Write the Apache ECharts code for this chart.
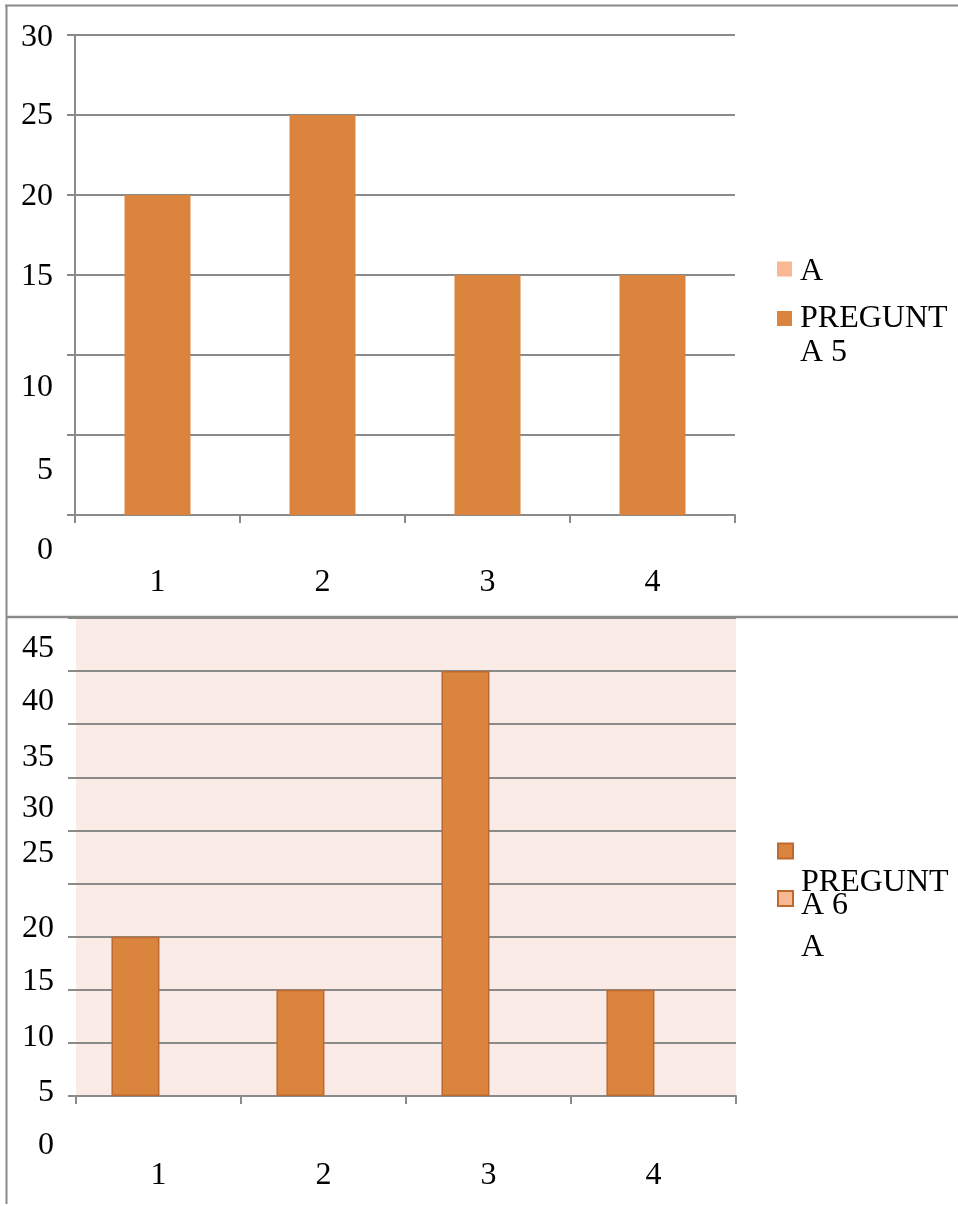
<!DOCTYPE html>
<html>
<head>
<meta charset="utf-8">
<script src="https://cdn.jsdelivr.net/npm/echarts@6/dist/echarts.min.js"></script>
<style>
  html, body { margin: 0; padding: 0; background: #ffffff; }
  #chart { width: 958px; height: 1206px; }
</style>
</head>
<body>
<div id="chart"></div>
<script>
// ---- data ----
const categories = ['1', '2', '3', '4'];

const q5Name = 'PREGUNTA 5';
const q5Values = [20, 25, 15, 15];
const q5Ticks = [0, 5, 10, 15, 20, 25, 30];

const q6Name = 'PREGUNTA 6';
const q6Values = [15, 10, 40, 10];
const q6Ticks = [0, 5, 10, 15, 20, 25, 30, 35, 40, 45];

const blankName = 'A';
const blankValues = [null, null, null, null];

// ---- look ----
const FONT = '"Liberation Serif", "Times New Roman", serif';
const FS = 32;
const BAR = '#DB843D';
const BAR_LIGHT = '#F9B894';
const BAR_EDGE = '#BC6A2F';
const RULE = '#8a8a8a';
const LEGEND_WRAP = 7; // characters per legend line

// vertical nudge (px) of each y tick label relative to its gridline
const q5LabelShift = { 0: 36, 5: 36, 10: 33, 15: 2, 20: 2, 25: 1, 30: 3 };
const q6LabelShift = { 0: 50, 5: 50, 10: 48, 15: 45, 20: 45, 25: 23, 30: 31, 35: 33, 40: 30, 45: 31 };

function shiftedLabels(ticks, shifts) {
  const rich = {};
  ticks.forEach(function (t) {
    const d = shifts[t] || 0;
    rich['s' + t] = {
      fontFamily: FONT,
      fontSize: FS,
      color: '#000',
      padding: d >= 0 ? [2 * d, 0, 0, 0] : [0, 0, -2 * d, 0]
    };
  });
  return {
    formatter: function (v) { return '{s' + v + '|' + v + '}'; },
    rich: rich
  };
}

function valueAxis(gridIndex, ticks, shifts, showLine) {
  const lab = shiftedLabels(ticks, shifts);
  return {
    type: 'value',
    gridIndex: gridIndex,
    min: ticks[0],
    max: ticks[ticks.length - 1],
    interval: ticks[1] - ticks[0],
    axisLine: { show: showLine, lineStyle: { color: RULE, width: 2 } },
    axisTick: { show: true, length: 8, lineStyle: { color: RULE, width: 2 } },
    splitLine: { show: true, lineStyle: { color: RULE, width: 2 } },
    axisLabel: {
      show: true,
      margin: 22,
      hideOverlap: false,
      showMinLabel: true,
      showMaxLabel: true,
      fontFamily: FONT,
      fontSize: FS,
      color: '#000',
      formatter: lab.formatter,
      rich: lab.rich
    }
  };
}

function categoryAxis(gridIndex, margin) {
  return {
    type: 'category',
    gridIndex: gridIndex,
    data: categories,
    axisLine: { show: true, lineStyle: { color: RULE, width: 2 } },
    axisTick: { show: true, length: 8, lineStyle: { color: RULE, width: 2 } },
    axisLabel: { margin: margin, fontFamily: FONT, fontSize: FS, color: '#000' },
    splitLine: { show: false }
  };
}

// legend entry: name wrapped into short lines, pushed down by a spacer line
function legendEntry(name, left, top, gap, lineHeight) {
  const lines = [];
  for (let i = 0; i < name.length; i += LEGEND_WRAP) {
    lines.push(name.slice(i, i + LEGEND_WRAP).trim());
  }
  const body = lines.map(function (l) { return '{t|' + l + '}'; }).join('\n');
  return {
    data: [name], left: left, top: top, padding: 0, selectedMode: false,
    icon: 'rect', itemWidth: 15, itemHeight: 15,
    formatter: function () { return (gap > 0 ? '{g| }\n' : '') + body; },
    textStyle: {
      fontFamily: FONT, fontSize: FS, color: '#000',
      rich: {
        g: { fontSize: 1, lineHeight: gap },
        t: { fontFamily: FONT, fontSize: FS, color: '#000', lineHeight: lineHeight, padding: [0, 0, 0, 3] }
      }
    }
  };
}

const chart = echarts.init(document.getElementById('chart'), null, { renderer: 'canvas' });

chart.setOption({
  animation: false,
  backgroundColor: '#ffffff',
  grid: [
    { left: 75, top: 35, width: 660, height: 480, outerBoundsMode: 'none', containLabel: false },
    { left: 76, top: 618, width: 660, height: 478, outerBoundsMode: 'none', containLabel: false,
      show: true, backgroundColor: '#FBEBE7', borderWidth: 0 }
  ],
  xAxis: [categoryAxis(0, 52), categoryAxis(1, 64)],
  yAxis: [valueAxis(0, q5Ticks, q5LabelShift, true), valueAxis(1, q6Ticks, q6LabelShift, false)],
  legend: [
    legendEntry(blankName + ' ', 777, 251.5, 6, 34),
    legendEntry(q5Name, 777, 284, 34, 34),
    legendEntry(q6Name, 777, 827.5, 87, 23),
    legendEntry(blankName, 777, 881, 98, 34)
  ],
  series: [
    // upper chart: empty companion series shares the stack so bars stay centred
    {
      name: blankName + ' ', type: 'bar', xAxisIndex: 0, yAxisIndex: 0, stack: 'q5',
      data: blankValues, itemStyle: { color: BAR_LIGHT }, barCategoryGap: '60%'
    },
    {
      name: q5Name, type: 'bar', xAxisIndex: 0, yAxisIndex: 0, stack: 'q5',
      data: q5Values, itemStyle: { color: BAR }, barCategoryGap: '60%'
    },
    // lower chart: two side-by-side slots, the second one empty
    {
      name: q6Name, type: 'bar', xAxisIndex: 1, yAxisIndex: 1,
      data: q6Values, barWidth: 48, barGap: '-4%',
      itemStyle: { color: BAR, borderColor: BAR_EDGE, borderWidth: 1.5 }
    },
    {
      name: blankName, type: 'bar', xAxisIndex: 1, yAxisIndex: 1,
      data: blankValues, barWidth: 48, barGap: '-4%',
      itemStyle: { color: BAR_LIGHT, borderColor: BAR_EDGE, borderWidth: 1.5 }
    }
  ],
  graphic: [
    // page frame and divider between the two charts
    { type: 'line', shape: { x1: 5, y1: 5.5, x2: 958, y2: 5.5 }, style: { stroke: RULE, lineWidth: 2 }, silent: true },
    { type: 'line', shape: { x1: 6.5, y1: 5, x2: 6.5, y2: 1204 }, style: { stroke: RULE, lineWidth: 2 }, silent: true },
    { type: 'line', shape: { x1: 6.5, y1: 617, x2: 958, y2: 617 }, style: { stroke: RULE, lineWidth: 2.5 }, silent: true, z: 100 }
  ]
});
</script>
</body>
</html>
